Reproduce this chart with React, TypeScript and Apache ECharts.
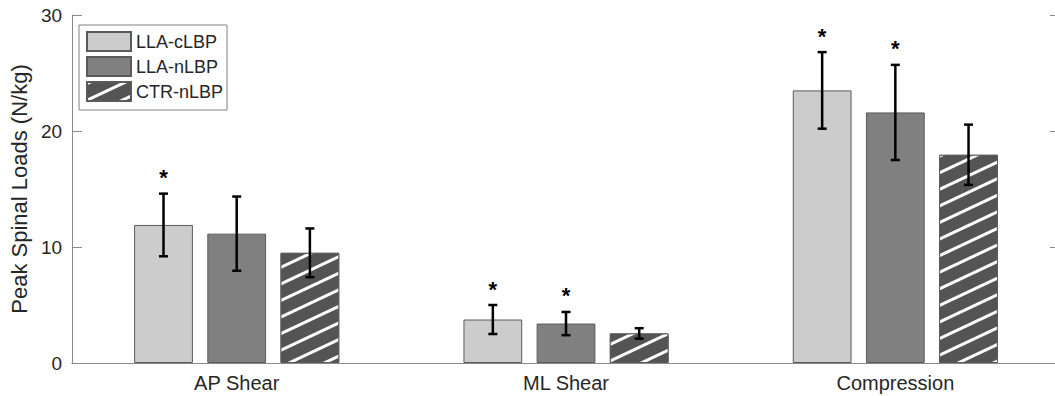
import React, { useEffect, useRef } from "react";
import * as echarts from "echarts";

const categories = ["AP Shear", "ML Shear", "Compression"];
const seriesNames = ["LLA-cLBP", "LLA-nLBP", "CTR-nLBP"];
const meansCLBP = [11.9, 3.75, 23.5];
const errCLBP = [2.7, 1.25, 3.3];
const sigCLBP = [1, 1, 1];
const meansNLBP = [11.15, 3.4, 21.6];
const errNLBP = [3.2, 1.0, 4.1];
const sigNLBP = [0, 1, 1];
const meansCTR = [9.5, 2.55, 17.95];
const errCTR = [2.1, 0.45, 2.6];
const sigCTR = [0, 0, 0];
const yTicks = { min: 0, max: 30, interval: 10 };

const FONT = "'Liberation Sans', Arial, sans-serif";
const BAR_W = 0.1785;
const GAP = 0.245;
const TEXT = "#262626";
const AXIS = "#8a8a8a";

export default function App() {
  const ref = useRef<HTMLDivElement>(null);
  useEffect(() => {
    if (!ref.current) return;
    const chart = echarts.init(ref.current, undefined, { renderer: "svg" });
    const means = [meansCLBP, meansNLBP, meansCTR];
    const errs = [errCLBP, errNLBP, errCTR];
    const sigs = [sigCLBP, sigNLBP, sigCTR];
    const colors = ["#cccccc", "#808080", "#545454"];

    const barSeries = seriesNames.map((name, k) => ({
      name,
      type: "bar",
      data: means[k],
      barWidth: (BAR_W * 100).toFixed(2) + "%",
      barGap: (GAP * 100).toFixed(1) + "%",
      itemStyle: {
        color: colors[k],
        borderColor: "#5a5a5a",
        borderWidth: 1,
        decal:
          k === 2
            ? {
                symbol: "rect",
                symbolSize: 1,
                dashArrayX: [1, 0],
                dashArrayY: [2.3, 11.2],
                rotation: -0.44,
                color: "#ffffff",
              }
            : "none",
      },
      z: 2,
    }));

    const errSeries = seriesNames.map((name, k) => ({
      type: "custom",
      name: name + "-err",
      z: 4,
      data: categories.map((_, i) => [i, means[k][i], errs[k][i], sigs[k][i]]),
      encode: { x: 0, y: 1 },
      renderItem: (params: any, api: any) => {
        const cat = api.value(0);
        const m = api.value(1);
        const e = api.value(2);
        const s = api.value(3);
        const band = api.size([1, 0])[0];
        const bw = band * BAR_W;
        const step = bw * (1 + GAP);
        const c = api.coord([cat, m]);
        const x = c[0] + (k - 1) * step;
        const top = api.coord([cat, m + e])[1];
        const bot = api.coord([cat, m - e])[1];
        const st = { stroke: "#000", lineWidth: 2.5 };
        const children: any[] = [
          { type: "line", shape: { x1: x, y1: top, x2: x, y2: bot }, style: st },
          { type: "line", shape: { x1: x - 4.5, y1: top, x2: x + 4.5, y2: top }, style: st },
          { type: "line", shape: { x1: x - 4.5, y1: bot, x2: x + 4.5, y2: bot }, style: st },
        ];
        if (s) {
          children.push({
            type: "text",
            x,
            y: top - 5,
            style: {
              text: "*",
              fontSize: 22,
              fontWeight: "bold",
              fontFamily: FONT,
              fill: "#000",
              align: "center",
              verticalAlign: "bottom",
            },
          });
        }
        return { type: "group", children };
      },
    }));

    chart.setOption({
      animation: false,
      textStyle: { fontFamily: FONT },
      grid: { left: 68, right: 2, top: 15, bottom: 33 },
      legend: {
        data: seriesNames,
        orient: "vertical",
        left: 79,
        top: 25,
        itemWidth: 44,
        itemHeight: 19,
        itemGap: 4,
        padding: [6, 4, 8, 7],
        borderColor: "#808080",
        borderWidth: 1,
        backgroundColor: "#ffffff",
        textStyle: { fontSize: 18, color: TEXT, fontFamily: FONT },
        icon: "rect",
        selectedMode: false,
      },
      xAxis: [
        {
          type: "category",
          data: categories,
          z: 5,
          axisLine: { lineStyle: { color: AXIS, width: 1 } },
          axisTick: { inside: true, alignWithLabel: true, length: 10, lineStyle: { color: "#555" } },
          axisLabel: { fontSize: 20, color: TEXT, margin: 10, fontFamily: FONT },
        },
        {
          type: "category",
          data: categories,
          position: "top",
          z: 5,
          axisLine: { lineStyle: { color: AXIS, width: 1 } },
          axisTick: { inside: true, alignWithLabel: true, length: 10, lineStyle: { color: AXIS } },
          axisLabel: { show: false },
        },
      ],
      yAxis: [
        {
          type: "value",
          min: yTicks.min,
          max: yTicks.max,
          interval: yTicks.interval,
          z: 5,
          name: "Peak Spinal Loads (N/kg)",
          nameLocation: "middle",
          nameGap: 36,
          nameTextStyle: { fontSize: 22, color: TEXT, fontFamily: FONT },
          axisLine: { show: true, lineStyle: { color: AXIS, width: 1 } },
          axisTick: { show: true, inside: true, length: 10, lineStyle: { color: AXIS } },
          axisLabel: { fontSize: 19, color: TEXT, margin: 10, fontFamily: FONT },
          splitLine: { show: false },
        },
        {
          type: "value",
          min: yTicks.min,
          max: yTicks.max,
          interval: yTicks.interval,
          position: "right",
          z: 5,
          axisLine: { show: true, lineStyle: { color: AXIS, width: 1 } },
          axisTick: { show: true, inside: true, length: 10, lineStyle: { color: AXIS } },
          axisLabel: { show: false },
          splitLine: { show: false },
        },
      ],
      series: [...barSeries, ...errSeries],
    } as any);
    return () => chart.dispose();
  }, []);
  return (
    <div
      style={{
        position: "absolute",
        left: 0,
        top: 0,
        width: 1055,
        height: 396,
        overflow: "hidden",
        background: "#fff",
      }}
    >
      <div ref={ref} style={{ width: 1062, height: 396 }} />
    </div>
  );
}
